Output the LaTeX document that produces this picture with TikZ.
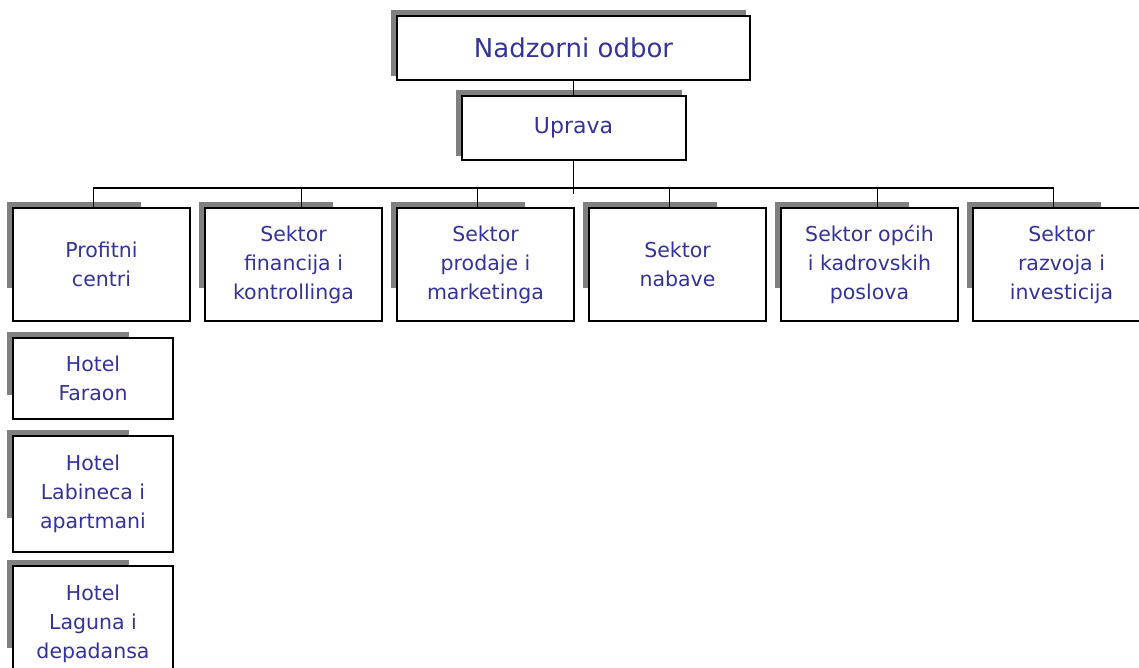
\documentclass[tikz,border=0pt]{standalone}
\usepackage{fontspec}
\setmainfont{DejaVu Sans}
\usetikzlibrary{positioning,calc,backgrounds}

\definecolor{tekst}{RGB}{51,51,153}
\definecolor{sjenasiva}{RGB}{128,128,128}

\tikzset{
  okvir/.style={draw, line width=2pt, fill=white, inner sep=0pt,
    text=tekst, align=center},
  glavni/.style={okvir, minimum width=353pt, minimum height=64pt,
    font=\fontsize{26}{30}\selectfont},
  upravni/.style={okvir, minimum width=224pt, minimum height=64pt,
    font=\fontsize{22}{26}\selectfont},
  sektor/.style={okvir, minimum width=177pt, minimum height=113pt,
    font=\fontsize{20.5}{29}\selectfont},
  hotel/.style={sektor, minimum width=160pt},
  sjena/.style={fill=sjenasiva},
  kvaka/.style={edge from parent path={(\tikzparentnode.south) -- ++(0,-33)
    ++(0,6) -| ([xshift=#1]\tikzchildnode.north)}},
  kvaka/.default=-8pt
}

% gray shadow behind a box: #2 and #3 are the parts of width and height
\newcommand{\sjena}[3]{%
  \fill[sjena] let \p1=(#1.north west), \p2=(#1.south east) in
    (\x1-5pt,\y1+5pt) rectangle ({\x1+#2*(\x2-\x1)},{\y1+#3*(\y2-\y1)});}

\begin{document}
\begin{tikzpicture}
  [x=1pt, y=1pt, line width=1.4pt,
    level 1/.style={level distance=80pt,
    edge from parent path={(\tikzparentnode.south) -- (\tikzchildnode.north)}},
    level 2/.style={sibling distance=192pt,
    level distance=136.5pt, every child node/.style={xshift=8pt}, kvaka}]
  \useasboundingbox (0,0) rectangle (1139,-668);
  \node[glavni] (no) at (573.5,-48) {Nadzorni odbor}
    child {node[upravni] (up) {Uprava}
    child {node[sektor] (pc) {Profitni\\centri}}
    child[kvaka=8pt] {node[sektor] (sf) {Sektor\\financija i\\kontrollinga}}
    child {node[sektor] (sp) {Sektor\\prodaje i\\marketinga}}
    child {node[sektor] (sn) {Sektor\\nabave}}
    child[kvaka=8pt] {node[sektor] (so) {Sektor općih\\i kadrovskih\\poslova}}
    child {node[sektor] (sr) {Sektor\\razvoja i\\investicija}}
  };
  % hoteli ispod profitnih centara
  \node[hotel, minimum height=81pt, below=15pt of pc.south west,
    anchor=north west] (hf) {Hotel\\Faraon};
  \node[hotel, minimum height=116pt, below=15pt of hf.south west,
    anchor=north west] (hl) {Hotel\\Labineca i\\apartmani};
  \node[hotel, minimum height=116pt, below=12pt of hl.south west,
    anchor=north west] (hg) {Hotel\\Laguna i\\depadansa};
  % sjene
  \begin{scope}[on background layer]
    \sjena{no}{0.986}{0.922}
    \sjena{up}{0.978}{0.922}
    \foreach \ime in {pc,sf,sp,sn,so,sr,hf,hl,hg}
      {\sjena{\ime}{0.72}{0.70}}
  \end{scope}
\end{tikzpicture}
\end{document}
